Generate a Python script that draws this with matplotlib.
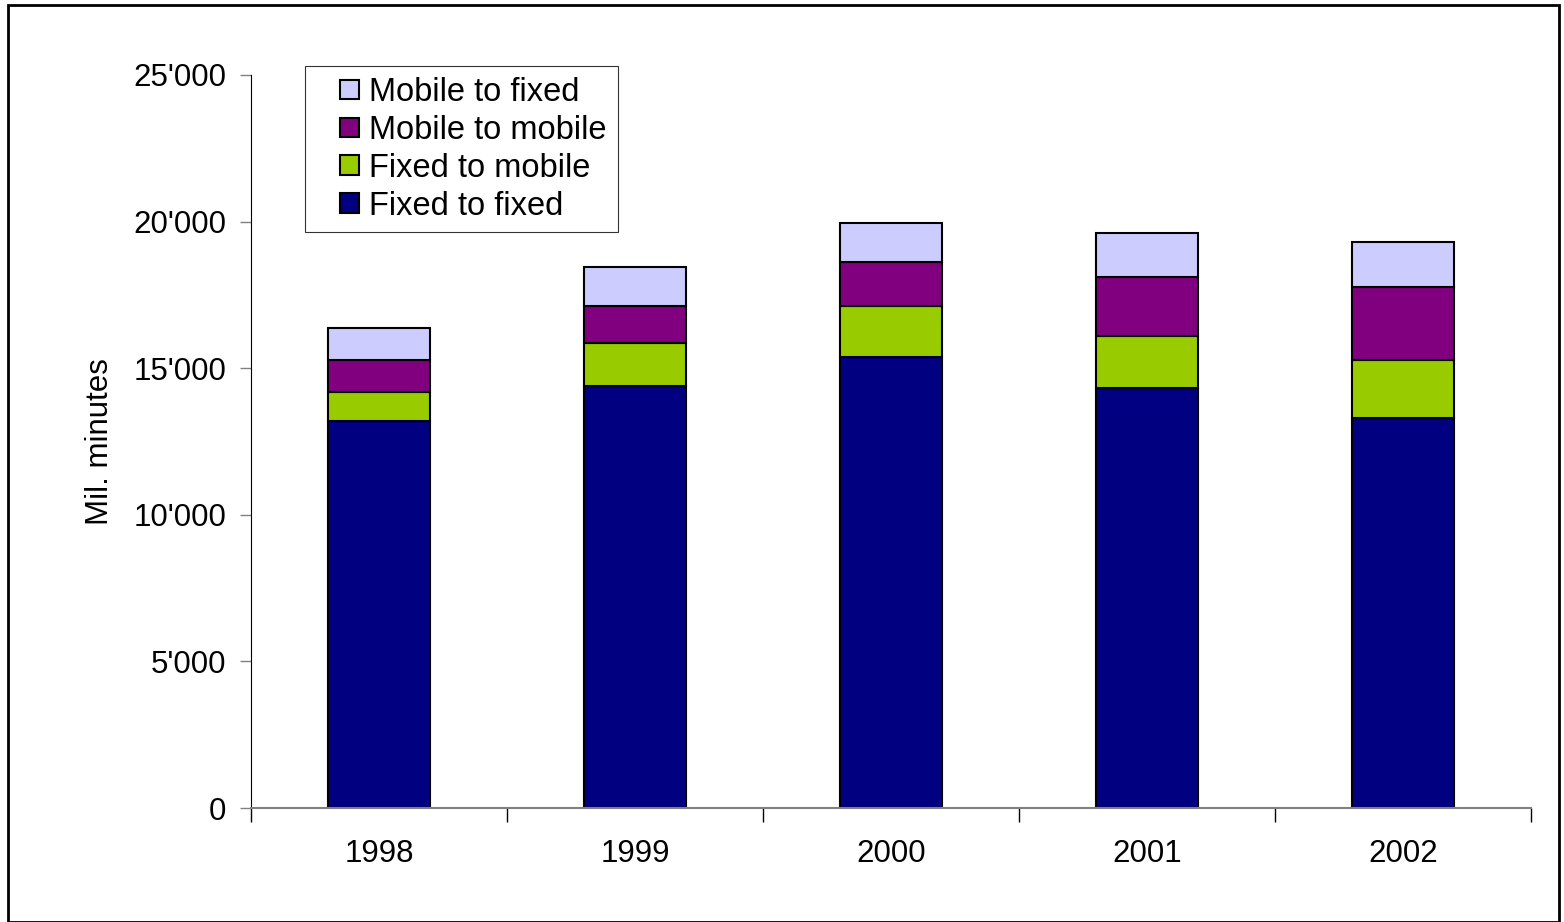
import matplotlib.pyplot as plt
import numpy as np
from matplotlib.ticker import FuncFormatter
from matplotlib.patches import Rectangle
from matplotlib.legend_handler import HandlerBase

years = ["1998", "1999", "2000", "2001", "2002"]
fixed_to_fixed = [13200, 14390, 15380, 14320, 13300]
fixed_to_mobile = [990, 1470, 1740, 1780, 1980]
mobile_to_mobile = [1090, 1260, 1500, 2010, 2490]
mobile_to_fixed = [1090, 1330, 1330, 1500, 1530]

series = [
    ("Fixed to fixed", fixed_to_fixed, "#000080"),
    ("Fixed to mobile", fixed_to_mobile, "#99CC00"),
    ("Mobile to mobile", mobile_to_mobile, "#800080"),
    ("Mobile to fixed", mobile_to_fixed, "#CCCCFF"),
]

plt.rcParams["font.family"] = ["Liberation Sans", "DejaVu Sans"]
FS = 22.5


class SquareHandler(HandlerBase):
    # small square pushed to the right end of the handle box
    def create_artists(self, legend, orig_handle, xdescent, ydescent,
                       width, height, fontsize, trans):
        s = height
        fc = orig_handle.patches[0].get_facecolor()
        r = Rectangle((width - s - xdescent, -ydescent), s, s,
                      facecolor=fc, edgecolor="black", linewidth=1.5,
                      transform=trans)
        return [r]


fig = plt.figure(figsize=(15.64, 9.22), dpi=100)
ax = fig.add_axes([0.1605, 0.1236, 0.8185, 0.7951])

x = np.arange(len(years))
bottom = np.zeros(len(years))
handles = {}
for name, vals, color in series:
    b = ax.bar(x, vals, width=0.4, bottom=bottom, color=color,
               edgecolor="black", linewidth=1.5, label=name)
    handles[name] = b
    bottom += np.array(vals)

ax.set_xlim(-0.5, len(years) - 0.5)
ax.set_ylim(0, 25000)
ax.set_yticks(np.arange(0, 25001, 5000))
ax.yaxis.set_major_formatter(FuncFormatter(lambda v, p: f"{int(v):,}".replace(",", "'")))
ax.set_xticks(x)
ax.set_xticklabels(years)
ax.set_xticks(np.arange(-0.5, len(years)), minor=True)
ax.tick_params(axis="x", which="major", length=0, labelsize=FS, pad=22)
ax.tick_params(axis="x", which="minor", length=10, width=1, color="black")
ax.tick_params(axis="y", length=8, width=1, labelsize=FS, pad=10, color="#808080")

for s in ["top", "right"]:
    ax.spines[s].set_visible(False)
ax.spines["left"].set_color("black")
ax.spines["bottom"].set_color("#808080")
ax.spines["bottom"].set_linewidth(1.5)

ax.set_ylabel("Mil. minutes", fontsize=FS, labelpad=13)

order = ["Mobile to fixed", "Mobile to mobile", "Fixed to mobile", "Fixed to fixed"]
bar_handles = [handles[n] for n in order]
leg = ax.legend(bar_handles, order, loc="upper left",
                bbox_to_anchor=(0.195, 0.928), bbox_transform=fig.transFigure,
                fontsize=23.5, frameon=True, fancybox=False, edgecolor="black",
                borderpad=0.33, labelspacing=0.21, handlelength=1.34,
                handleheight=0.55, handletextpad=0.3, borderaxespad=0,
                handler_map={h: SquareHandler() for h in bar_handles})
leg.get_frame().set_linewidth(0.8)

fig.patches.append(Rectangle((0.005, 0.0), 0.992, 0.995, transform=fig.transFigure,
                             fill=False, edgecolor="black", linewidth=2))

fig.savefig("out.png", dpi=100)
